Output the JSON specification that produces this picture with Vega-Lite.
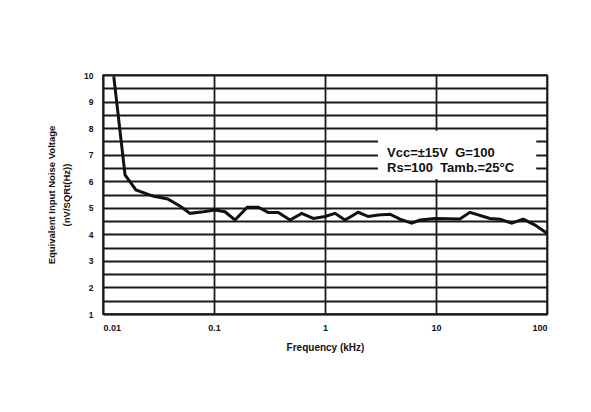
{
  "$schema": "https://vega.github.io/schema/vega-lite/v6.json",
  "width": 444,
  "height": 239,
  "autosize": "none",
  "padding": {"left": 103, "top": 75, "right": 44, "bottom": 98},
  "background": "white",
  "config": {
    "view": {"stroke": "#222", "strokeWidth": 1.5},
    "font": "Liberation Sans",
    "axis": {
      "labelFont": "Liberation Sans", "labelFontWeight": "bold", "labelColor": "#111",
      "titleFont": "Liberation Sans", "titleFontWeight": "bold", "titleColor": "#111",
      "gridColor": "#1a1a1a", "gridWidth": 1.8, "gridOpacity": 1,
      "domainColor": "#1a1a1a", "domainWidth": 1.5, "ticks": false
    }
  },
  "datasets": {
    "noise": [
      {"f": 0.0125, "v": 9.95},
      {"f": 0.0158, "v": 6.24},
      {"f": 0.0198, "v": 5.67},
      {"f": 0.0282, "v": 5.44},
      {"f": 0.0383, "v": 5.33},
      {"f": 0.0505, "v": 5.04},
      {"f": 0.0608, "v": 4.79},
      {"f": 0.0802, "v": 4.85},
      {"f": 0.102, "v": 4.92},
      {"f": 0.1256, "v": 4.85},
      {"f": 0.1545, "v": 4.54},
      {"f": 0.1995, "v": 5.02},
      {"f": 0.2506, "v": 5.02},
      {"f": 0.3083, "v": 4.82},
      {"f": 0.3796, "v": 4.82},
      {"f": 0.4842, "v": 4.54},
      {"f": 0.6166, "v": 4.79},
      {"f": 0.785, "v": 4.6},
      {"f": 1.0, "v": 4.67},
      {"f": 1.231, "v": 4.79},
      {"f": 1.514, "v": 4.54},
      {"f": 1.995, "v": 4.83},
      {"f": 2.455, "v": 4.67},
      {"f": 3.02, "v": 4.73},
      {"f": 3.85, "v": 4.76},
      {"f": 4.74, "v": 4.57},
      {"f": 6.04, "v": 4.42},
      {"f": 7.18, "v": 4.54},
      {"f": 9.8, "v": 4.6},
      {"f": 16.4, "v": 4.58},
      {"f": 20.2, "v": 4.83},
      {"f": 30.6, "v": 4.6},
      {"f": 37.7, "v": 4.57},
      {"f": 48.1, "v": 4.42},
      {"f": 61.1, "v": 4.57},
      {"f": 78.0, "v": 4.35},
      {"f": 100, "v": 4.04}
    ],
    "box": [{"f": 3.0, "f2": 80, "v": 6.08, "v2": 7.9}],
    "notes": [
      {"f": 3.62, "v": 7.06, "t": "Vcc=±15V\u00a0\u00a0G=100"},
      {"f": 3.62, "v": 6.5, "t": "Rs=100\u00a0\u00a0Tamb.=25°C"}
    ]
  },
  "encoding": {
    "x": {"field": "f", "type": "quantitative",
      "scale": {"type": "log", "domain": [0.01, 100], "nice": false},
      "axis": {
        "values": [0.01, 0.1, 1, 10, 100], "format": "~g",
        "labelFontSize": 9, "labelPadding": 9,
        "title": "Frequency (kHz)", "titleFontSize": 10, "titlePadding": 10
      }
    },
    "y": {"field": "v", "type": "quantitative",
      "scale": {"domain": [1, 10], "nice": false, "zero": false},
      "axis": {
        "values": [1, 1.5, 2, 2.5, 3, 3.5, 4, 4.5, 5, 5.5, 6, 6.5, 7, 7.5, 8, 8.5, 9, 9.5, 10],
        "labelExpr": "datum.value % 1 == 0 ? format(datum.value, 'd') : ''",
        "labelOverlap": false,
        "labelFontSize": 8.5, "labelPadding": 10,
        "title": ["Equivalent Input Noise Voltage", "(nV/SQRt(Hz))"],
        "titleFontSize": 9.5, "titleLineHeight": 15, "titlePadding": 12
      }
    }
  },
  "layer": [
    {
      "data": {"name": "box"},
      "mark": {"type": "rect", "fill": "white", "stroke": null},
      "encoding": {
        "x2": {"field": "f2"},
        "y2": {"field": "v2"}
      }
    },
    {
      "data": {"name": "notes"},
      "mark": {"type": "text", "align": "left", "baseline": "middle", "fontSize": 13, "fontWeight": "bold", "font": "Liberation Sans", "color": "#111"},
      "encoding": {
        "text": {"field": "t"}
      }
    },
    {
      "data": {"name": "noise"},
      "mark": {"type": "line", "color": "#111", "strokeWidth": 3},
      "encoding": {}
    }
  ]
}
